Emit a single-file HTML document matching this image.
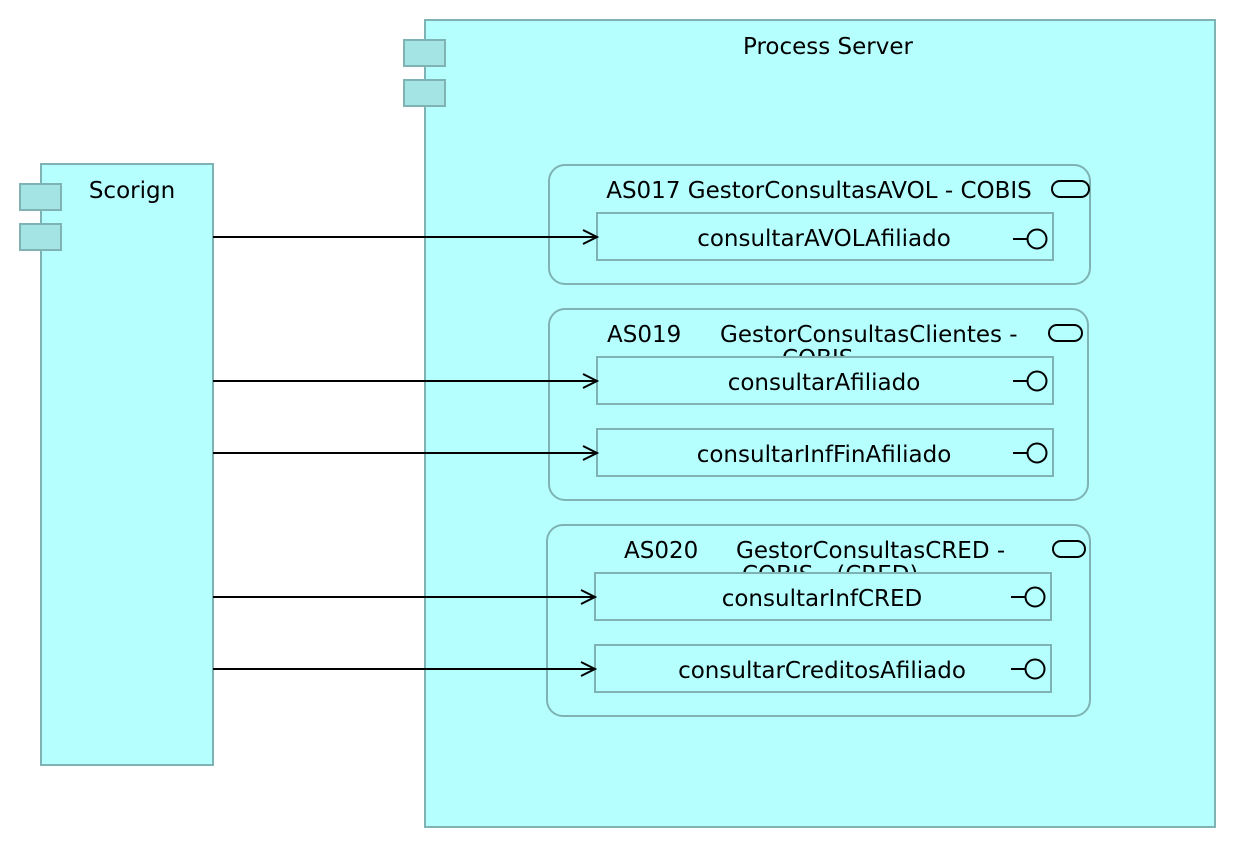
<!DOCTYPE html>
<html><head><meta charset="utf-8"><style>
html,body{margin:0;padding:0;background:#fff;}
svg text{font-family:"DejaVu Sans","Liberation Sans",sans-serif;font-size:23px;fill:#000;}
</style></head><body>
<svg width="1236" height="848" xmlns="http://www.w3.org/2000/svg">
<g stroke="#7fb3b3" stroke-width="2">
<rect x="425" y="20" width="790" height="807" fill="#b5ffff"/>
<rect x="404" y="40" width="41" height="26" fill="#a4e4e4"/>
<rect x="404" y="80" width="41" height="26" fill="#a4e4e4"/>
<rect x="41" y="164" width="172" height="601" fill="#b5ffff"/>
<rect x="20" y="184" width="41" height="26" fill="#a4e4e4"/>
<rect x="20" y="224" width="41" height="26" fill="#a4e4e4"/>
<rect x="549" y="165" width="541" height="119" rx="16" fill="#b5ffff"/>
<rect x="549" y="309" width="539" height="191" rx="16" fill="#b5ffff"/>
<rect x="547" y="525" width="543" height="191" rx="16" fill="#b5ffff"/>
</g>
<text x="828" y="54" text-anchor="middle">Process Server</text>
<text x="132" y="198" text-anchor="middle">Scorign</text>
<text x="819" y="198" text-anchor="middle">AS017 GestorConsultasAVOL - COBIS</text>
<text x="607" y="342">AS019</text><text x="720" y="342">GestorConsultasClientes -</text>
<text x="782" y="366">COBIS</text>
<text x="624" y="558">AS020</text><text x="736" y="558">GestorConsultasCRED -</text>
<text x="742" y="582">COBIS - (CRED)</text>
<g fill="none" stroke="#000" stroke-width="2">
<rect x="1052" y="181" width="37" height="16" rx="8"/>
<rect x="1049" y="325" width="33" height="16" rx="8"/>
<rect x="1053" y="541" width="32" height="16" rx="8"/>
</g>
<g stroke="#7fb3b3" stroke-width="2" fill="#b5ffff">
<rect x="597" y="213" width="456" height="47"/>
<rect x="597" y="357" width="456" height="47"/>
<rect x="597" y="429" width="456" height="47"/>
<rect x="595" y="573" width="456" height="47"/>
<rect x="595" y="645" width="456" height="47"/>
</g>
<text x="824" y="246" text-anchor="middle">consultarAVOLAfiliado</text>
<text x="824" y="390" text-anchor="middle">consultarAfiliado</text>
<text x="824" y="462" text-anchor="middle">consultarInfFinAfiliado</text>
<text x="822" y="606" text-anchor="middle">consultarInfCRED</text>
<text x="822" y="678" text-anchor="middle">consultarCreditosAfiliado</text>
<g fill="none" stroke="#000" stroke-width="2">
<path d="M1013 239H1027"/><circle cx="1037" cy="239" r="9.5"/>
<path d="M1013 381H1027"/><circle cx="1037" cy="381" r="9.5"/>
<path d="M1013 453H1027"/><circle cx="1037" cy="453" r="9.5"/>
<path d="M1011 597H1025"/><circle cx="1035" cy="597" r="9.5"/>
<path d="M1011 669H1025"/><circle cx="1035" cy="669" r="9.5"/>
<path d="M213 237H597M583 230L597 237L583 244"/>
<path d="M213 381H597M583 374L597 381L583 388"/>
<path d="M213 453H597M583 446L597 453L583 460"/>
<path d="M213 597H595M581 590L595 597L581 604"/>
<path d="M213 669H595M581 662L595 669L581 676"/>
</g>
</svg>
</body></html>
